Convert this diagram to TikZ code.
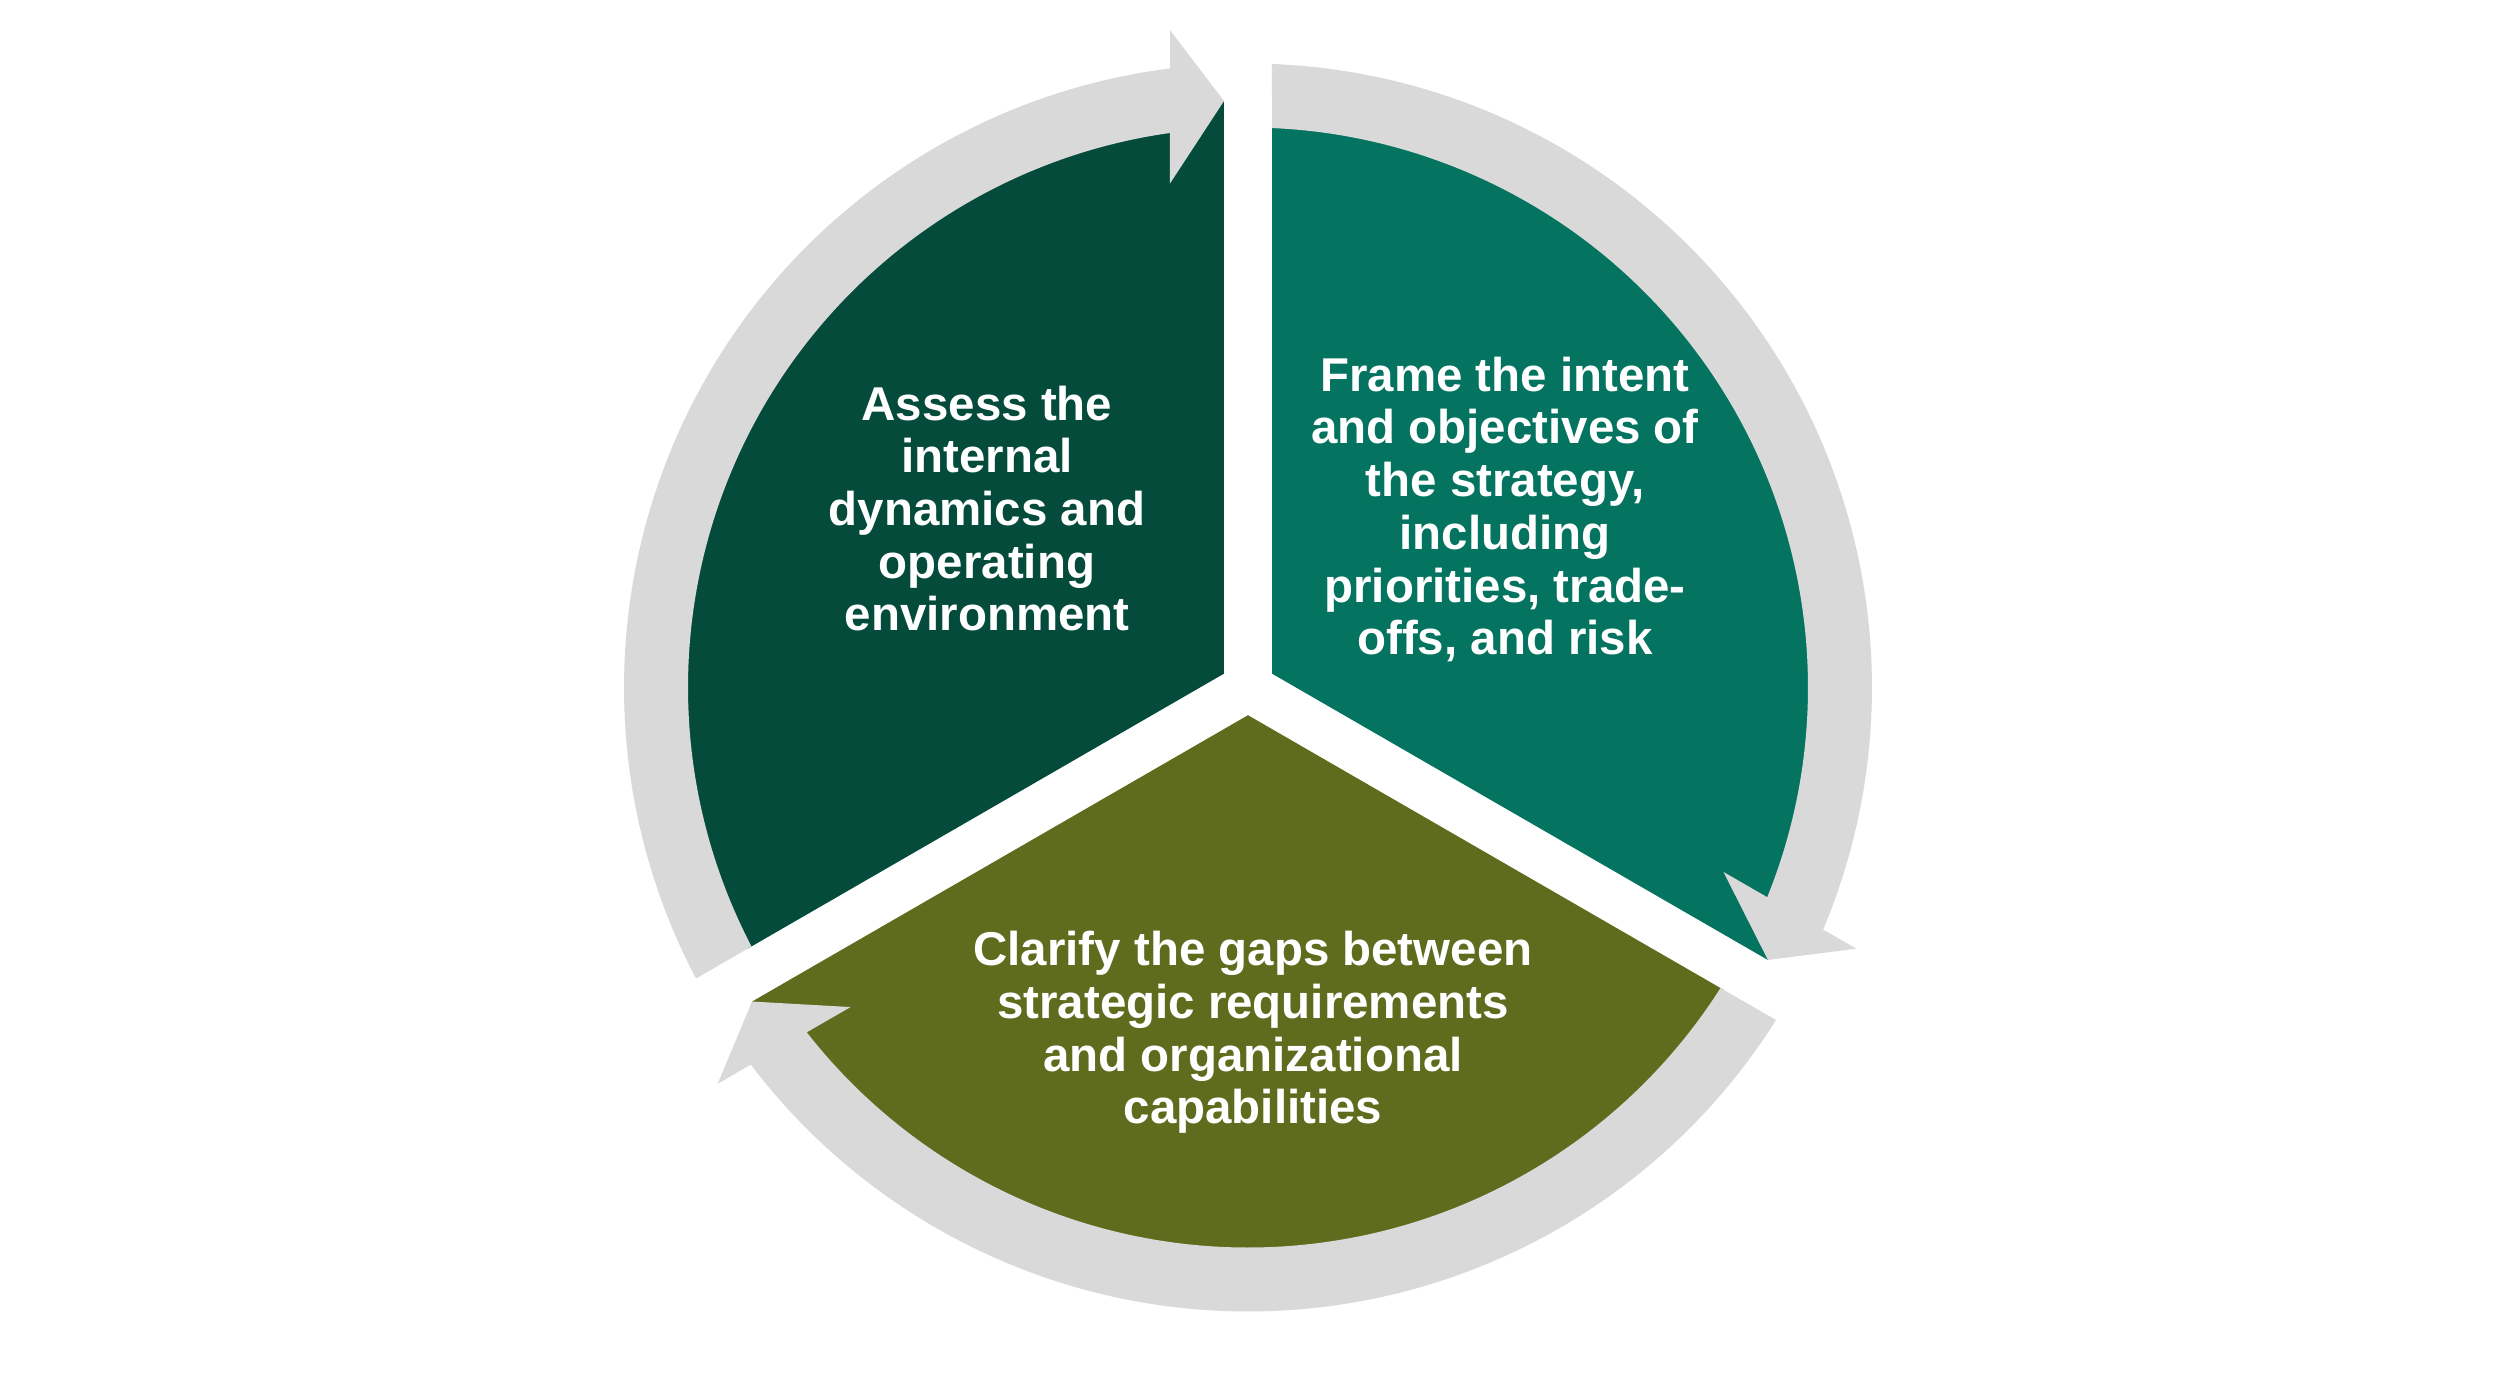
\documentclass[tikz,border=0pt]{standalone}
\usepackage{fontspec}
\setmainfont{Liberation Sans}
\definecolor{segA}{HTML}{044B3C}
\definecolor{segB}{HTML}{04735F}
\definecolor{segC}{HTML}{5F6C1E}
\definecolor{ringgrey}{HTML}{D9D9D9}
\begin{document}
\begin{tikzpicture}[
  lbl/.style={text=white, font=\bfseries\fontsize{13.5}{15}\selectfont, align=center, inner sep=0pt},
  arrowband/.style={fill=ringgrey}
]
\useasboundingbox (-12.48,-6.865) rectangle (12.52,6.875);
\foreach \r/\c in {0/segA, -120/segB, -240/segC}{
  \begin{scope}[rotate=\r]
    % pie segment
    \fill[\c] (-0.24,0.1386) -- (-0.24,5.865) -- (98:5.64)
      arc[start angle=98, end angle=207.56, radius=5.64] -- cycle;
    % circular arrow
    \fill[arrowband] (207.80:6.24)
      arc[start angle=207.80, end angle=97.18, radius=6.24]
      -- (-0.78,6.574) -- (-0.24,5.865) -- (-0.78,5.04)
      -- (98.01:5.6) arc[start angle=98.01, end angle=207.54, radius=5.6] -- cycle;
  \end{scope}
}
\node[lbl] (assess) at (-2.61,1.79) {Assess the\\internal\\dynamics and\\operating\\environment};
\node[lbl] (frame) at (2.57,1.78) {Frame the intent\\and objectives of\\the strategy,\\including\\priorities, trade-\\offs, and risk};
\node[lbl] (clarify) at (0.05,-3.45) {Clarify the gaps between\\strategic requirements\\and organizational\\capabilities};
\end{tikzpicture}
\end{document}
